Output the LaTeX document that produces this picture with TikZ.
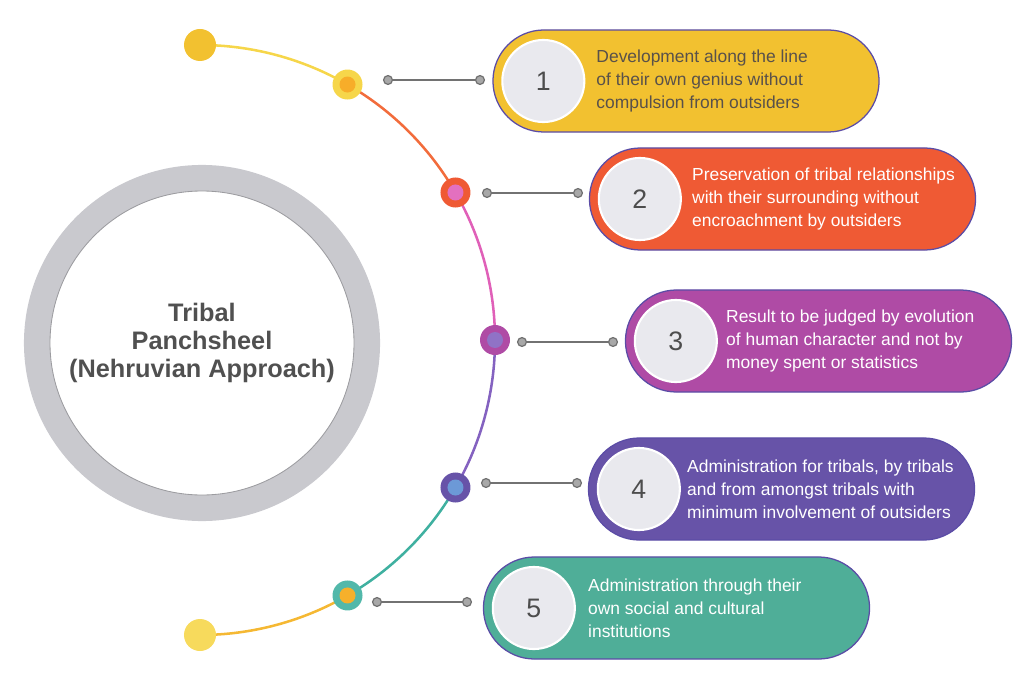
\documentclass[tikz,border=0pt]{standalone}
\usepackage{fontspec}
\setmainfont{Liberation Sans}
\usetikzlibrary{shapes.misc,positioning,backgrounds}

\definecolor{pillYellow}{HTML}{F2C130}
\definecolor{pillRed}{HTML}{EF5A34}
\definecolor{pillMagenta}{HTML}{AF4BA5}
\definecolor{pillPurple}{HTML}{6753A8}
\definecolor{pillTeal}{HTML}{4FAE98}
\definecolor{pillEdge}{HTML}{5B4CA6}
\definecolor{numFill}{HTML}{E9E9EE}
\definecolor{numText}{HTML}{4D4D4D}
\definecolor{txtDark}{HTML}{59514A}
\definecolor{ringGray}{HTML}{C9C9CE}
\definecolor{ringEdge}{HTML}{9C9CA0}
\definecolor{titleGray}{HTML}{505050}
\definecolor{arcYellow}{HTML}{F6D64A}
\definecolor{arcOrange}{HTML}{F26C3C}
\definecolor{arcPink}{HTML}{E060B8}
\definecolor{arcPurple}{HTML}{8462C0}
\definecolor{arcTeal}{HTML}{3FB0A0}
\definecolor{arcGold}{HTML}{F5B833}
\definecolor{knobEdge}{HTML}{727272}
\definecolor{knobFill}{HTML}{A8A8A8}

\begin{document}
\begin{tikzpicture}[x=0.025cm,y=0.025cm,
  pill/.style={rounded rectangle,draw=pillEdge,line width=0.9pt,minimum width=9.65cm,minimum height=2.55cm,inner sep=0pt},
  num/.style={circle,fill=numFill,draw=white,line width=1.5pt,minimum size=2.05cm,inner sep=0pt,text=numText,font=\fontsize{19}{19}\selectfont},
  txt/.style={align=left,inner sep=0pt,font=\fontsize{12.4}{16.2}\selectfont},
  dot/.style={circle,minimum size=0.75cm,inner sep=0pt},
  core/.style={circle,minimum size=0.4cm,inner sep=0pt},
  tip/.style={circle,minimum size=0.8cm,inner sep=0pt},
  knob/.style={circle,draw=knobEdge,fill=knobFill,line width=0.9pt,minimum size=0.22cm,inner sep=0pt},
  link/.style={draw=knobEdge,line width=1.3pt},
  seg/.style={line width=1.8pt}]

  \useasboundingbox (0,0) rectangle (1024,686);

  % THE HUB
  \node[circle,draw=ringGray,line width=0.65cm,minimum size=8.25cm,inner sep=0pt,
        align=center,text=titleGray,font=\fontsize{18}{20.2}\selectfont\bfseries]
    (hub) at (202,343) {Tribal\\Panchsheel\\(Nehruvian Approach)};
  \draw[ringEdge,line width=0.6pt] (hub.center) circle (152);

  % the arc and its dots
  \coordinate (arcC) at (200,346);
  \node[tip,fill=pillYellow] (e1) at ([shift={(90:295)}]arcC) {};
  \node[tip,fill=arcYellow!90!white] (e2) at ([shift={(-90:295)}]arcC) {};
  \node[dot,fill=arcYellow] (d1) at ([shift={(60:295)}]arcC) {};
  \node[dot,fill=pillRed] (d2) at ([shift={(30:295)}]arcC) {};
  \node[dot,fill=pillMagenta] (d3) at ([shift={(0:295)}]arcC) {};
  \node[dot,fill=pillPurple] (d4) at ([shift={(-30:295)}]arcC) {};
  \node[dot,fill=arcTeal!90!white] (d5) at ([shift={(-60:295)}]arcC) {};
  \node[core,fill=arcGold!80!orange] (d1c) at (d1) {};
  \node[core,fill=arcPink!90!white] (d2c) at (d2) {};
  \node[core,fill=arcPurple!90!white] (d3c) at (d3) {};
  \node[core,fill=cyan!50!blue!60!white] (d4c) at (d4) {};
  \node[core,fill=arcGold!85!orange] (d5c) at (d5) {};

  \begin{pgfonlayer}{background}
    \draw[seg,arcYellow] (e1) arc[start angle=90,end angle=60,radius=295];
    \draw[seg,arcOrange] (d1) arc[start angle=60,end angle=30,radius=295];
    \draw[seg,arcPink] (d2) arc[start angle=30,end angle=0,radius=295];
    \draw[seg,arcPurple] (d3) arc[start angle=0,end angle=-30,radius=295];
    \draw[seg,arcTeal] (d4) arc[start angle=-30,end angle=-60,radius=295];
    \draw[seg,arcGold] (d5) arc[start angle=-60,end angle=-90,radius=295];
  \end{pgfonlayer}

  % 1
  \node[pill,fill=pillYellow] (b1) at (686,605) {};
  \node[num] (n1) at ([xshift=1.275cm]b1.west) {1};
  \node[txt,text=txtDark,right=0.27cm of n1] (t1) {Development along the line\\of their own genius without\\compulsion from outsiders};
  \node[knob] (k1a) at (388,606) {};
  \node[knob] (k1b) at (480,606) {};
  \draw[link] (k1a) -- (k1b);

  % 2
  \node[pill,fill=pillRed] (b2) at (782.5,487) {};
  \node[num] (n2) at ([xshift=1.275cm]b2.west) {2};
  \node[txt,text=white,right=0.25cm of n2] (t2) {Preservation of tribal relationships\\with their surrounding without\\encroachment by outsiders};
  \node[knob] (k2a) at (487,493) {};
  \node[knob] (k2b) at (578,493) {};
  \draw[link] (k2a) -- (k2b);

  % 3
  \node[pill,fill=pillMagenta] (b3) at (818.5,345) {};
  \node[num] (n3) at ([xshift=1.275cm]b3.west) {3};
  \node[txt,text=white,right=0.2cm of n3] (t3) {Result to be judged by evolution\\of human character and not by\\money spent or statistics};
  \node[knob] (k3a) at (522,344) {};
  \node[knob] (k3b) at (613,344) {};
  \draw[link] (k3a) -- (k3b);

  % 4
  \node[pill,fill=pillPurple] (b4) at (781.5,197) {};
  \node[num] (n4) at ([xshift=1.275cm]b4.west) {4};
  \node[txt,text=white,right=0.15cm of n4] (t4) {Administration for tribals, by tribals\\and from amongst tribals with\\minimum involvement of outsiders};
  \node[knob] (k4a) at (486,203) {};
  \node[knob] (k4b) at (577,203) {};
  \draw[link] (k4a) -- (k4b);

  % 5
  \node[pill,fill=pillTeal] (b5) at (676.5,78) {};
  \node[num] (n5) at ([xshift=1.275cm]b5.west) {5};
  \node[txt,text=white,right=0.3cm of n5] (t5) {Administration through their\\own social and cultural\\institutions};
  \node[knob] (k5a) at (377,84) {};
  \node[knob] (k5b) at (467,84) {};
  \draw[link] (k5a) -- (k5b);
\end{tikzpicture}
\end{document}
